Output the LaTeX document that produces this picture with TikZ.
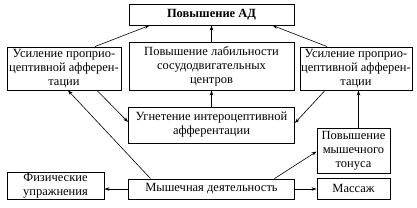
\documentclass[tikz,border=0pt]{standalone}
\usepackage{fontspec}
\setmainfont{Liberation Serif}
\usetikzlibrary{arrows.meta}
\begin{document}
\begin{tikzpicture}[x=1pt,y=-1pt,
  box/.style={draw,line width=0.9pt,align=center,inner sep=1pt,font=\rmfamily\fontsize{12.5}{14}\selectfont},
  arr/.style={-{Stealth[length=5pt,width=3.5pt]},line width=0.6pt}]
\useasboundingbox (0,0) rectangle (417,207);

\node[box,minimum width=165,minimum height=21,font=\rmfamily\fontsize{12.5}{14}\selectfont\bfseries] (ad) at (211.5,14.5) {Повышение АД};
\node[box,minimum width=114,minimum height=43] (propL) at (64,68.5) {Усиление проприо-\\цептивной афферен-\\тации};
\node[box,minimum width=165,minimum height=48] (lab) at (211.5,66) {Повышение лабильности\\сосудодвигательных\\центров};
\node[box,minimum width=112,minimum height=43] (propR) at (356,68.5) {Усиление проприо-\\цептивной афферен-\\тации};
\node[box,minimum width=166,minimum height=36] (ugn) at (211.5,125) {Угнетение интероцептивной\\афферентации};
\node[box,minimum width=73,minimum height=45] (tonus) at (353.5,150.5) {Повышение\\мышечного\\тонуса};
\node[box,minimum width=73,minimum height=21] (mass) at (353.5,188.5) {Массаж};
\node[box,minimum width=166,minimum height=20] (mysh) at (211.5,189) {Мышечная деятельность};
\node[box,minimum width=97,minimum height=27] (fiz) at (55.5,185.5) {Физические\\упражнения};

% upper arrows
\draw[arr] ([xshift=31pt]propL.north) -- ([xshift=-62pt]ad.south);
\draw[arr] ([xshift=-29pt]propR.north) -- ([xshift=61pt]ad.south);
\draw[arr] (lab.north) -- (ad.south);
\draw[arr] (ugn.north) -- (lab.south);

% lower arrows
\draw[arr] ([xshift=-61pt]mysh.north) -- ([xshift=4pt]propL.south);
\draw[arr] ([xshift=33pt]propL.south) -- ([yshift=3pt]ugn.west);
\draw[arr] ([xshift=-31pt]propR.south) -- ([yshift=2pt]ugn.east);
\draw[arr] ([xshift=5pt]tonus.north) -- ([xshift=5pt]tonus.north |- propR.south);
\draw[arr] ([xshift=63pt]mysh.north) -- ([yshift=-1pt]tonus.west);
\draw[arr] (mysh.east) -- (mysh.east -| mass.west);
\draw[arr] (mysh.west) -- (mysh.west -| fiz.east);
\end{tikzpicture}
\end{document}
